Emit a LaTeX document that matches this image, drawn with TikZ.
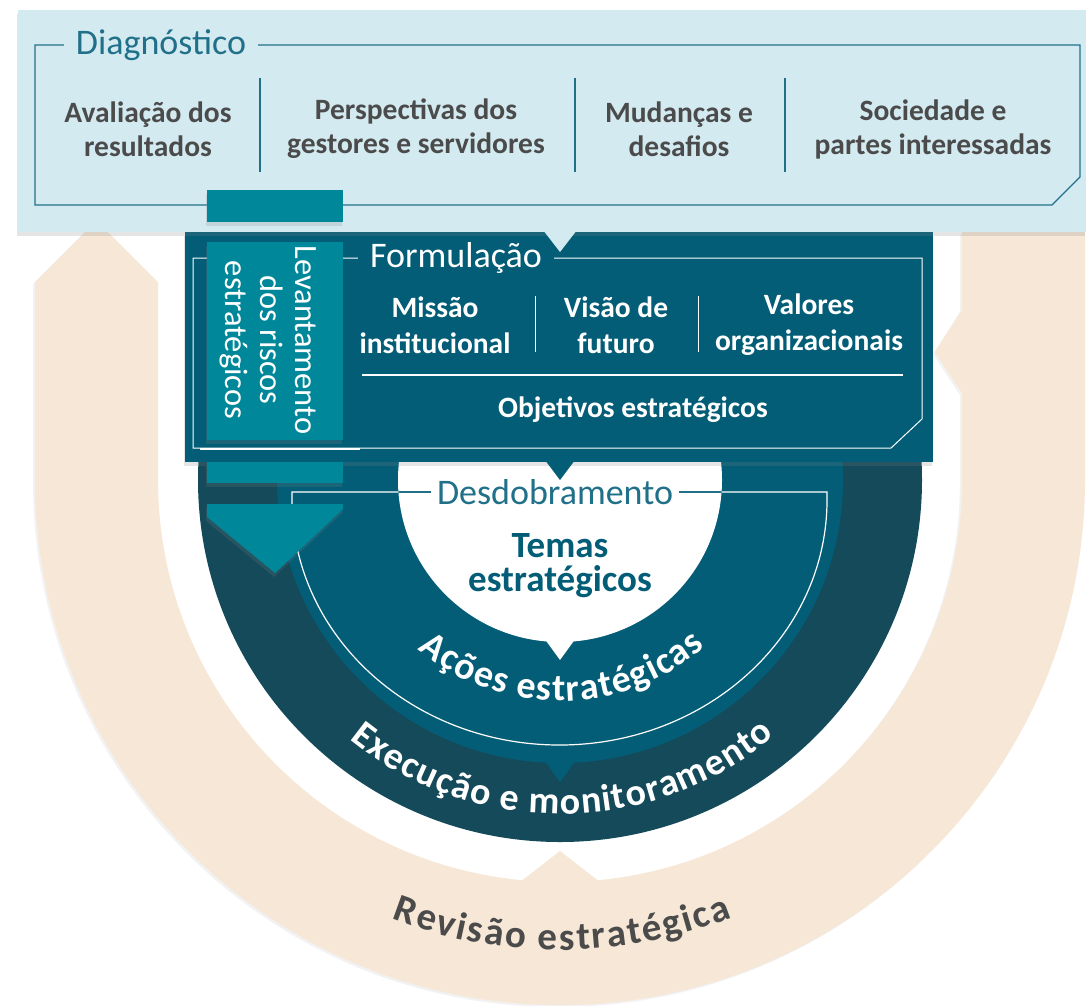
\documentclass[tikz,border=0pt]{standalone}
\usepackage{fontspec}
\setmainfont{Carlito}
\usetikzlibrary{positioning,shadows,decorations.text}

\definecolor{diagblue}{HTML}{D3EAF1}
\definecolor{diagline}{HTML}{21708A}
\definecolor{formteal}{HTML}{035D77}
\definecolor{execteal}{HTML}{144A5A}
\definecolor{riskteal}{HTML}{00889A}
\definecolor{revbeige}{HTML}{F6E7D6}
\definecolor{textgray}{HTML}{4B4B4B}
\newcommand{\fsz}[2]{\fontsize{#1}{#2}\selectfont}

\begin{document}
\begin{tikzpicture}
  [x=1pt,y=1pt,
   coltext/.style={align=center,font=\bfseries\fsz{29.5}{34},text=textgray},
   formtext/.style={align=center,font=\bfseries\fsz{29.5}{36},text=white},
   headtext/.style={font=\fsz{36}{40},inner xsep=12pt,inner ysep=1pt},
   panelshadow/.style={drop shadow={opacity=0.2,shadow xshift=-1pt,shadow yshift=-4pt}},
   arctext/.style={decorate,decoration={text along path,text align={fit to path},text color=#1}}]

  \fill[white] (0,0) rectangle (1086,-1005);
  \useasboundingbox (0,0) rectangle (1086,-1005);
  \coordinate (C) at (560,-480);

  % revisao: beige band round everything
  \fill[revbeige,drop shadow={opacity=0.1,shadow xshift=-2pt,shadow yshift=-2pt}] (1085,-232) -- (1085,-480) arc[start angle=0,end angle=-180,radius=525]
    -- (35,-282) -- (96.5,-220.5) -- (158,-282) -- (158,-480)
    arc[start angle=180,end angle=360,radius=402]
    -- (962,-393) -- (935,-352) -- (962,-310) -- (962,-232) -- cycle;
  \fill[revbeige] (515,-886) -- (560,-851) -- (605,-886) -- cycle;

  % execucao, acoes, temas
  \fill[execteal] (C) circle[radius=362];
  \fill[formteal] (C) circle[radius=283];
  \fill[formteal] (544,-760) -- (560,-782) -- (576,-760) -- cycle;
  \fill[white] (C) circle[radius=162];
  \fill[white] (544,-638) -- (560,-660) -- (576,-638) -- cycle;

  % desdobramento frame
  \draw[white,line width=1.2] (560,-492) -- (292,-492) -- (292,-500)
    arc[start angle=180,end angle=360,x radius=267.5,y radius=245] -- (827,-492) -- cycle;
  \begin{scope}
    \clip (C) circle[radius=162];
    \draw[diagline,line width=1.2] (292,-492) -- (827,-492);
  \end{scope}
  \node[headtext,text=diagline,fill=white,inner xsep=6pt] (desd) at (555,-492) {Desdobramento};
  \node[font=\bfseries\fsz{37}{34},text=formteal,align=center] (temas) at (560,-566) {Temas\\estratégicos};

  \path[arctext=white,decoration={text={|\bfseries\fsz{38}{38}|Ações estratégicas}}]
    (C) ++(230:221) arc[start angle=230,end angle=311,radius=221];
  \path[arctext=white,decoration={text={|\bfseries\fsz{38}{38}|Execução e monitoramento}}]
    (C) ++(231:334) arc[start angle=231,end angle=310,radius=334];
  \path[arctext=textgray,decoration={text={|\bfseries\fsz{39}{39}|Revisão estratégica}}]
    (C) ++(249:470) arc[start angle=249,end angle=291.5,radius=470];

  % formulacao panel
  \fill[formteal,panelshadow] (185,-232) rectangle (933,-462);
  \fill[formteal] (545,-460) -- (560,-480) -- (575,-460) -- cycle;
  \draw[white,line width=1] (456,-258) -- (193,-258) -- (193,-448) -- (891,-448)
    -- (922,-419) -- (922,-258) -- cycle;
  \draw[white,line width=2.5] (200,-449) -- (360,-449);
  \node[headtext,text=white,fill=formteal] (form) at (456,-258) {Formulação};
  \node[formtext] (missao) at (435,-325) {Missão\\institucional};
  \node[formtext] (visao) at (616,-325) {Visão de\\futuro};
  \node[formtext] (valores) at (809,-325) {Valores\\organizacionais};
  \foreach \x in {535,698}
    \draw[white,line width=1] (\x,-296) -- (\x,-352);
  \draw[white,line width=1.2] (362,-375) -- (903,-375);
  \node[formtext] (objet) at (633,-410) {Objetivos estratégicos};

  % diagnostico panel
  \fill[diagblue,panelshadow] (18,-10) rectangle (1086,-232);
  \fill[diagblue] (543,-230) -- (560,-252) -- (577,-230) -- cycle;
  \draw[diagline,line width=1.2] (161,-45) -- (35,-45) -- (35,-205) -- (1052,-205)
    -- (1080,-177) -- (1080,-45) -- cycle;
  \node[headtext,text=diagline,fill=diagblue] (diag) at (161,-45) {Diagnóstico};
  \node[coltext] (aval) at (148,-129) {Avaliação dos\\resultados};
  \node[coltext] (persp) at (416,-129) {Perspectivas dos\\gestores e servidores};
  \node[coltext] (mudan) at (679,-129) {Mudanças e\\desafios};
  \node[coltext] (socied) at (933,-129) {Sociedade e\\partes interessadas};
  \foreach \x in {260,575,785}
    \draw[diagline,line width=1.2] (\x,-78) -- (\x,-172);

  % levantamento dos riscos: teal strip
  \fill[riskteal,panelshadow] (207,-190) rectangle (343,-222);
  \node[fill=riskteal,panelshadow,minimum width=136pt,minimum height=198pt,inner sep=0pt] (risk) at (275,-341) {};
  \node[rotate=-90,font=\fsz{32.5}{35},text=white,align=center] (risktext) at (268,-340) {Levantamento\\dos riscos\\estratégicos};
  \fill[riskteal,panelshadow] (207,-462) rectangle (343,-483);
  \fill[riskteal,panelshadow] (207,-504) -- (343,-504) -- (343,-509) -- (275,-573) -- (207,-517) -- cycle;

\end{tikzpicture}
\end{document}
